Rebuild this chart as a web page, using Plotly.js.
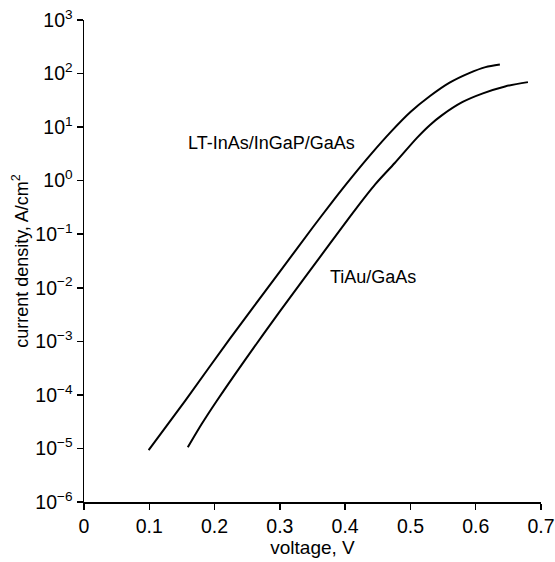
<!DOCTYPE html>
<html>
<head>
<meta charset="utf-8">
<script src="https://cdn.plot.ly/plotly-3.0.1.min.js"></script>
<style>html,body{margin:0;padding:0;background:#fff;}#chart{width:555px;height:562px;}</style>
</head>
<body>
<div id="chart"></div>
<script>
// LT-InAs/InGaP/GaAs contact
const ltVoltage = [0.099, 0.156, 0.223, 0.30, 0.35, 0.38, 0.41, 0.44, 0.47, 0.50, 0.53, 0.56, 0.59, 0.615, 0.637];
const ltCurrent = [9.3e-6, 8.1e-5, 1.10e-3, 2.0e-2, 0.132, 0.398, 1.15, 3.16, 8.13, 19.1, 38.0, 67.6, 102, 132, 148];
// TiAu/GaAs contact
const tiVoltage = [0.159, 0.18, 0.203, 0.246, 0.30, 0.371, 0.415, 0.446, 0.476, 0.51, 0.53, 0.548, 0.58, 0.611, 0.645, 0.68];
const tiCurrent = [1.05e-5, 2.82e-5, 7.6e-5, 4.37e-4, 3.63e-3, 0.0537, 0.282, 0.851, 2.14, 6.31, 11.0, 16.6, 29.5, 42.7, 57.5, 69.2];

const xTicks = [0, 0.1, 0.2, 0.3, 0.4, 0.5, 0.6, 0.7];
const xTickText = ["0", "0.1", "0.2", "0.3", "0.4", "0.5", "0.6", "0.7"];
const yTicks = [1e-6, 1e-5, 1e-4, 1e-3, 1e-2, 1e-1, 1e0, 1e1, 1e2, 1e3];
const yTickText = ["10<sup>−6</sup>", "10<sup>−5</sup>", "10<sup>−4</sup>", "10<sup>−3</sup>", "10<sup>−2</sup>", "10<sup>−1</sup>", "10<sup>0</sup>", "10<sup>1</sup>", "10<sup>2</sup>", "10<sup>3</sup>"];

const labels = [
  {text: "LT-InAs/InGaP/GaAs", x: 0.2865, y: 5.1},
  {text: "TiAu/GaAs", x: 0.443, y: 0.016}
];

const family = "Liberation Sans, Arial, sans-serif";
const labelFont = {family: family, size: 18, color: "#000"};
const tickFont = {family: family, size: 19.5, color: "#000"};
const xTitleFont = {family: family, size: 19, color: "#000"};
const yTitleFont = {family: family, size: 18, color: "#000"};

const traces = [
  {x: ltVoltage, y: ltCurrent, mode: "lines", line: {color: "#000", width: 2, shape: "spline", smoothing: 0.8}, name: "LT-InAs/InGaP/GaAs", hoverinfo: "skip"},
  {x: tiVoltage, y: tiCurrent, mode: "lines", line: {color: "#000", width: 2, shape: "spline", smoothing: 0.8}, name: "TiAu/GaAs", hoverinfo: "skip"}
];

const layout = {
  width: 555, height: 562,
  margin: {l: 84, r: 14, t: 20, b: 60},
  paper_bgcolor: "#fff", plot_bgcolor: "#fff",
  showlegend: false,
  font: labelFont,
  xaxis: {
    range: [0, 0.7], tickvals: xTicks, ticktext: xTickText,
    showline: true, linecolor: "#000", linewidth: 1.5,
    ticks: "outside", ticklen: 6, tickwidth: 1.5, tickcolor: "#000",
    showgrid: false, zeroline: false, automargin: false,
    tickfont: tickFont,
    title: {text: "voltage, V", font: xTitleFont, standoff: 4}
  },
  yaxis: {
    type: "log", range: [-6, 3], tickvals: yTicks, ticktext: yTickText,
    showline: true, linecolor: "#000", linewidth: 1.5,
    ticks: "outside", ticklen: 6, tickwidth: 1.5, tickcolor: "#000",
    showgrid: false, zeroline: false, automargin: false,
    tickfont: tickFont,
    title: {text: "current density, A/cm<sup>2</sup>", font: yTitleFont, standoff: 2}
  },
  annotations: labels.map(l => ({
    text: l.text, x: l.x, y: Math.log10(l.y), xref: "x", yref: "y",
    showarrow: false, font: labelFont, xanchor: "center", yanchor: "middle"
  }))
};

Plotly.newPlot("chart", traces, layout, {displayModeBar: false, staticPlot: true});
</script>
</body>
</html>
